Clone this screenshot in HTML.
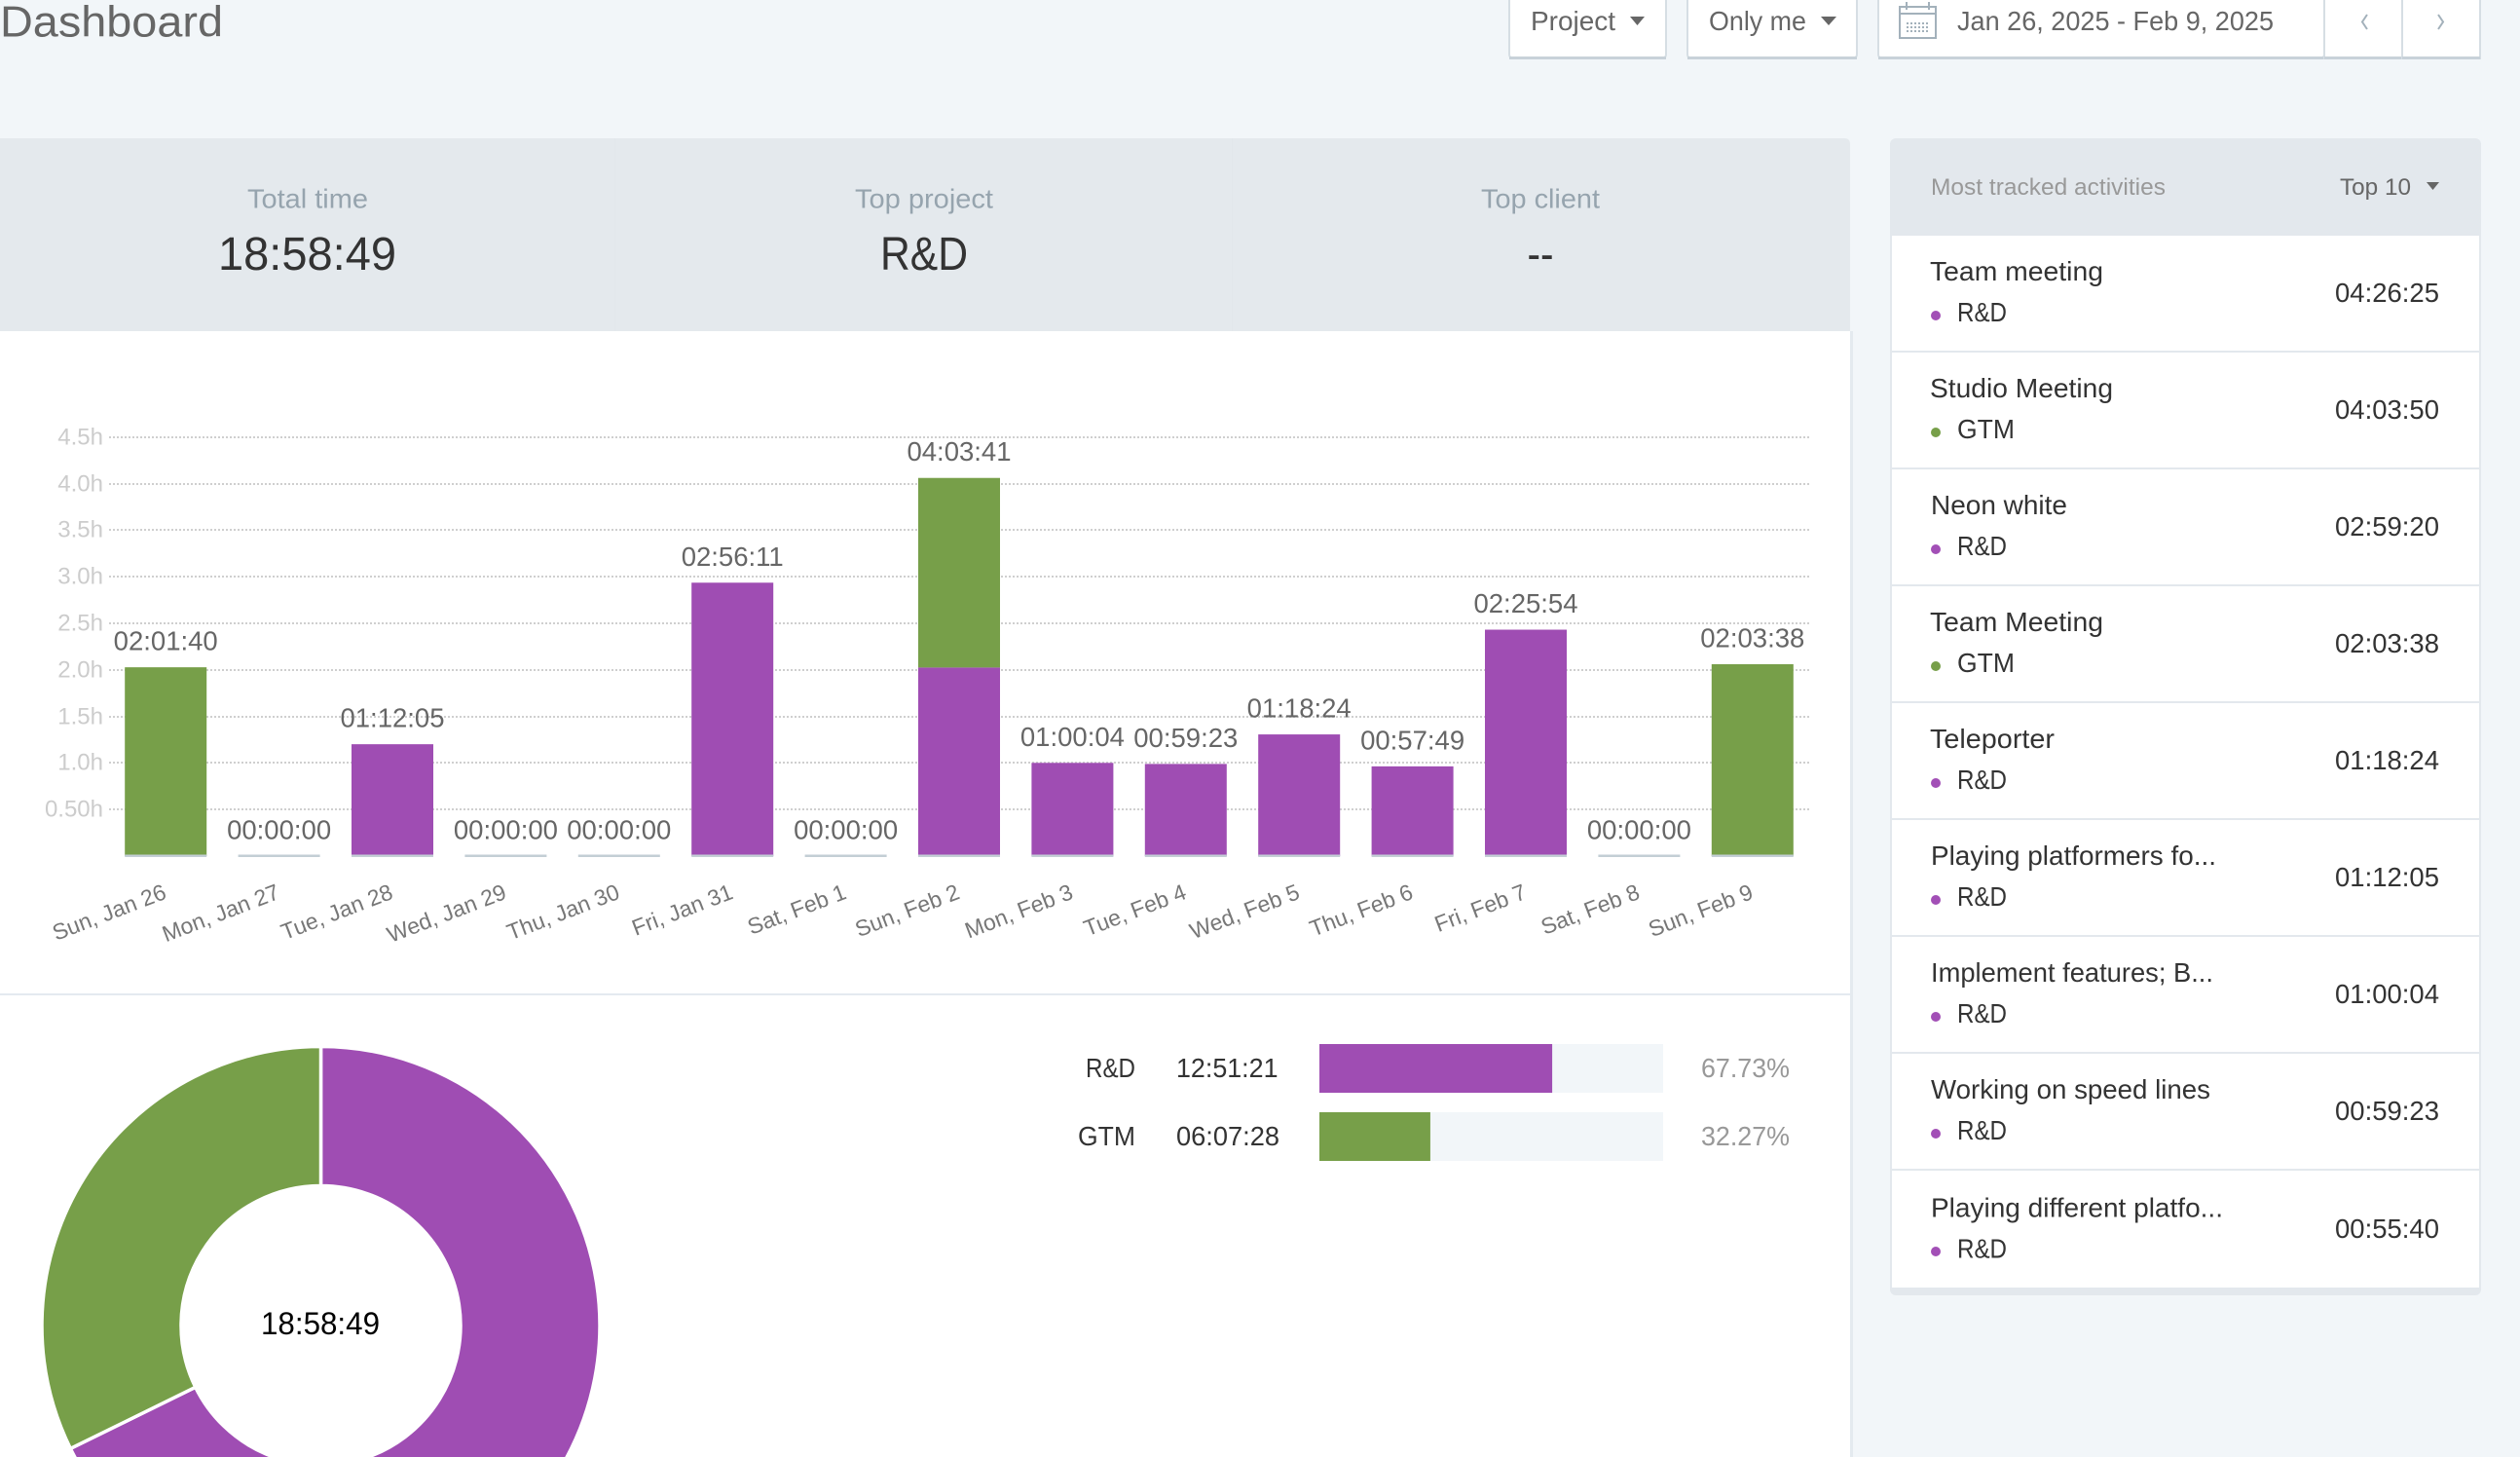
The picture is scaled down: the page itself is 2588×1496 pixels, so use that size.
<!DOCTYPE html>
<html lang="en">
<head>
<meta charset="utf-8">
<title>Dashboard</title>
<style>
  html, body { margin: 0; padding: 0; width: 2588px; height: 1496px; overflow: hidden; background: #f2f6f9; }
  svg { display: block; font-family: "Liberation Sans", sans-serif; }
  .btn-text { font-size: 28px; fill: #666; }
  .label { font-size: 28px; fill: #96a4ae; text-anchor: middle; }
  .stat { font-size: 48px; fill: #333; text-anchor: middle; }
  .row-title, .row-project, .row-time { font-size: 28px; fill: #333; }
  .legend-text { font-size: 28px; fill: #333; }
  .legend-pct { font-size: 28px; fill: #999; }
</style>
</head>
<body>
<svg xmlns="http://www.w3.org/2000/svg" width="2588" height="1496" viewBox="0 0 2588 1496">
  <rect x="0" y="0" width="2588" height="1496" fill="#f2f6f9"/>

  <text x="0" y="37.500" font-size="44.500" fill="#666" textLength="229" lengthAdjust="spacingAndGlyphs">Dashboard</text>

  <g>
    <rect x="1550" y="-12" width="161" height="72" rx="4" fill="#fff" stroke="#d6dee4" stroke-width="2"/>
    <rect x="1550" y="58" width="161" height="3" fill="#c8d2d9"/>
    <text class="btn-text" x="1572" y="31" textLength="87" lengthAdjust="spacingAndGlyphs">Project</text>
    <polygon points="1674,17 1689,17 1681.500,26" fill="#666"/>
  </g>
  <g>
    <rect x="1733" y="-12" width="174" height="72" rx="4" fill="#fff" stroke="#d6dee4" stroke-width="2"/>
    <rect x="1733" y="58" width="174" height="3" fill="#c8d2d9"/>
    <text class="btn-text" x="1755" y="31" textLength="100" lengthAdjust="spacingAndGlyphs">Only me</text>
    <polygon points="1870,17 1886,17 1878,26" fill="#666"/>
  </g>
  <g>
    <rect x="1929" y="-12" width="458" height="72" rx="4" fill="#fff" stroke="#d6dee4" stroke-width="2"/>
    <rect x="1929" y="58" width="458" height="3" fill="#c8d2d9"/>
    <g fill="none" stroke="#a3b1bb" stroke-width="2">
      <rect x="1951" y="7" width="37" height="32"/>
      <line x1="1951" y1="14" x2="1988" y2="14"/>
      <line x1="1958" y1="2" x2="1958" y2="10"/>
      <line x1="1981" y1="2" x2="1981" y2="10"/>
      <line x1="1958" y1="24" x2="1981" y2="24" stroke-dasharray="2 2"/>
      <line x1="1958" y1="28" x2="1981" y2="28" stroke-dasharray="2 2"/>
      <line x1="1958" y1="32" x2="1981" y2="32" stroke-dasharray="2 2"/>
    </g>
    <text class="btn-text" x="2010" y="31" textLength="325" lengthAdjust="spacingAndGlyphs">Jan 26, 2025 - Feb 9, 2025</text>
  </g>
  <g>
    <rect x="2387" y="-12" width="80" height="72" fill="#fff" stroke="#d6dee4" stroke-width="2"/>
    <rect x="2387" y="58" width="80" height="3" fill="#c8d2d9"/>
    <polyline points="2431,15 2426,22.500 2431,30" fill="none" stroke="#a3b1bb" stroke-width="2"/>
  </g>
  <g>
    <rect x="2467" y="-12" width="80" height="72" fill="#fff" stroke="#d6dee4" stroke-width="2"/>
    <rect x="2467" y="58" width="80" height="3" fill="#c8d2d9"/>
    <polyline points="2504,15 2509,22.500 2504,30" fill="none" stroke="#a3b1bb" stroke-width="2"/>
  </g>

  <rect x="0" y="340" width="1900" height="1156" fill="#fff"/>
  <rect x="1900" y="340" width="3" height="1156" fill="#e4eaef"/>
  <path d="M0 142 H1894 Q1900 142 1900 148 V340 H0 Z" fill="#e4e9ed"/>
  <rect x="631" y="142" width="1" height="198" fill="#e2e7eb"/>
  <rect x="1265" y="142" width="1" height="198" fill="#e2e7eb"/>

  <g>
    <text class="label" x="316" y="213.500" textLength="124" lengthAdjust="spacingAndGlyphs">Total time</text>
    <text class="stat" x="315.500" y="277" textLength="183" lengthAdjust="spacingAndGlyphs">18:58:49</text>
  </g>
  <g>
    <text class="label" x="949" y="213.500" textLength="142" lengthAdjust="spacingAndGlyphs">Top project</text>
    <text class="stat" x="949" y="277" textLength="90" lengthAdjust="spacingAndGlyphs">R&amp;D</text>
  </g>
  <g>
    <text class="label" x="1582" y="213.500" textLength="122" lengthAdjust="spacingAndGlyphs">Top client</text>
    <text class="stat" x="1582" y="277" textLength="27" lengthAdjust="spacingAndGlyphs">--</text>
  </g>

  <g id="grid-layer"></g>
  <g id="bar-layer"></g>
  <g id="value-layer"></g>
  <g id="category-layer"></g>

  <rect x="0" y="1020" width="1900" height="2" fill="#e4eaf0"/>

  <g id="donut-layer"></g>
  <text x="329" y="1370" font-size="32" fill="#000" text-anchor="middle" textLength="122" lengthAdjust="spacingAndGlyphs">18:58:49</text>

  <g id="legend-layer">
    <text class="legend-text" x="1115" y="1106" textLength="51" lengthAdjust="spacingAndGlyphs">R&amp;D</text>
    <text class="legend-text" x="1208" y="1106" textLength="104.500" lengthAdjust="spacingAndGlyphs">12:51:21</text>
    <text class="legend-pct" x="1747" y="1106" textLength="91" lengthAdjust="spacingAndGlyphs">67.73%</text>
    <text class="legend-text" x="1107" y="1176" textLength="59" lengthAdjust="spacingAndGlyphs">GTM</text>
    <text class="legend-text" x="1208" y="1176" textLength="106" lengthAdjust="spacingAndGlyphs">06:07:28</text>
    <text class="legend-pct" x="1747" y="1176" textLength="91" lengthAdjust="spacingAndGlyphs">32.27%</text>
  </g>

  <g>
    <rect x="1941" y="142" width="607" height="1188" rx="6" fill="#e3e8ed"/>
    <text x="1983" y="200" font-size="24" fill="#999" textLength="241" lengthAdjust="spacingAndGlyphs">Most tracked activities</text>
    <g>
      <text x="2403" y="200" font-size="24" fill="#666" textLength="73" lengthAdjust="spacingAndGlyphs">Top 10</text>
      <polygon points="2492,187 2505,187 2498.500,195" fill="#666"/>
    </g>

    <g>
      <rect x="1943" y="242" width="603" height="118" fill="#fff"/>
      <text class="row-title" x="1982" y="288" textLength="178" lengthAdjust="spacingAndGlyphs">Team meeting</text>
      <circle cx="1988" cy="324" r="5" fill="#a24fb6"/>
      <text class="row-project" x="2010" y="330" textLength="51" lengthAdjust="spacingAndGlyphs">R&amp;D</text>
      <text class="row-time" x="2398" y="310" textLength="107" lengthAdjust="spacingAndGlyphs">04:26:25</text>
    </g>
    <g>
      <rect x="1943" y="362" width="603" height="118" fill="#fff"/>
      <text class="row-title" x="1982" y="408" textLength="188" lengthAdjust="spacingAndGlyphs">Studio Meeting</text>
      <circle cx="1988" cy="444" r="5" fill="#779f49"/>
      <text class="row-project" x="2010" y="450" textLength="59" lengthAdjust="spacingAndGlyphs">GTM</text>
      <text class="row-time" x="2398" y="430" textLength="107" lengthAdjust="spacingAndGlyphs">04:03:50</text>
    </g>
    <g>
      <rect x="1943" y="482" width="603" height="118" fill="#fff"/>
      <text class="row-title" x="1983" y="528" textLength="140" lengthAdjust="spacingAndGlyphs">Neon white</text>
      <circle cx="1988" cy="564" r="5" fill="#a24fb6"/>
      <text class="row-project" x="2010" y="570" textLength="51" lengthAdjust="spacingAndGlyphs">R&amp;D</text>
      <text class="row-time" x="2398" y="550" textLength="107" lengthAdjust="spacingAndGlyphs">02:59:20</text>
    </g>
    <g>
      <rect x="1943" y="602" width="603" height="118" fill="#fff"/>
      <text class="row-title" x="1982" y="648" textLength="178" lengthAdjust="spacingAndGlyphs">Team Meeting</text>
      <circle cx="1988" cy="684" r="5" fill="#779f49"/>
      <text class="row-project" x="2010" y="690" textLength="59" lengthAdjust="spacingAndGlyphs">GTM</text>
      <text class="row-time" x="2398" y="670" textLength="107" lengthAdjust="spacingAndGlyphs">02:03:38</text>
    </g>
    <g>
      <rect x="1943" y="722" width="603" height="118" fill="#fff"/>
      <text class="row-title" x="1982" y="768" textLength="128" lengthAdjust="spacingAndGlyphs">Teleporter</text>
      <circle cx="1988" cy="804" r="5" fill="#a24fb6"/>
      <text class="row-project" x="2010" y="810" textLength="51" lengthAdjust="spacingAndGlyphs">R&amp;D</text>
      <text class="row-time" x="2398" y="790" textLength="107" lengthAdjust="spacingAndGlyphs">01:18:24</text>
    </g>
    <g>
      <rect x="1943" y="842" width="603" height="118" fill="#fff"/>
      <text class="row-title" x="1983" y="888" textLength="293" lengthAdjust="spacingAndGlyphs">Playing platformers fo...</text>
      <circle cx="1988" cy="924" r="5" fill="#a24fb6"/>
      <text class="row-project" x="2010" y="930" textLength="51" lengthAdjust="spacingAndGlyphs">R&amp;D</text>
      <text class="row-time" x="2398" y="910" textLength="107" lengthAdjust="spacingAndGlyphs">01:12:05</text>
    </g>
    <g>
      <rect x="1943" y="962" width="603" height="118" fill="#fff"/>
      <text class="row-title" x="1983" y="1008" textLength="290" lengthAdjust="spacingAndGlyphs">Implement features; B...</text>
      <circle cx="1988" cy="1044" r="5" fill="#a24fb6"/>
      <text class="row-project" x="2010" y="1050" textLength="51" lengthAdjust="spacingAndGlyphs">R&amp;D</text>
      <text class="row-time" x="2398" y="1030" textLength="107" lengthAdjust="spacingAndGlyphs">01:00:04</text>
    </g>
    <g>
      <rect x="1943" y="1082" width="603" height="118" fill="#fff"/>
      <text class="row-title" x="1983" y="1128" textLength="287" lengthAdjust="spacingAndGlyphs">Working on speed lines</text>
      <circle cx="1988" cy="1164" r="5" fill="#a24fb6"/>
      <text class="row-project" x="2010" y="1170" textLength="51" lengthAdjust="spacingAndGlyphs">R&amp;D</text>
      <text class="row-time" x="2398" y="1150" textLength="107" lengthAdjust="spacingAndGlyphs">00:59:23</text>
    </g>
    <g>
      <rect x="1943" y="1202" width="603" height="120" fill="#fff"/>
      <text class="row-title" x="1983" y="1249.500" textLength="300" lengthAdjust="spacingAndGlyphs">Playing different platfo...</text>
      <circle cx="1988" cy="1285" r="5" fill="#a24fb6"/>
      <text class="row-project" x="2010" y="1291.500" textLength="51" lengthAdjust="spacingAndGlyphs">R&amp;D</text>
      <text class="row-time" x="2398" y="1271" textLength="107" lengthAdjust="spacingAndGlyphs">00:55:40</text>
    </g>
  </g>
</svg>

<script>
const dayLabels = ["Sun, Jan 26", "Mon, Jan 27", "Tue, Jan 28", "Wed, Jan 29", "Thu, Jan 30", "Fri, Jan 31", "Sat, Feb 1", "Sun, Feb 2", "Mon, Feb 3", "Tue, Feb 4", "Wed, Feb 5", "Thu, Feb 6", "Fri, Feb 7", "Sat, Feb 8", "Sun, Feb 9"];
const rdHours = [0, 0, 1.2014, 0, 0, 2.9364, 0, 2.0253, 1.0011, 0.9897, 1.3067, 0.9636, 2.4317, 0, 0];
const gtmHours = [2.0278, 0, 0, 0, 0, 0, 0, 2.0361, 0, 0, 0, 0, 0, 0, 2.0606];
const valueLabels = ["02:01:40", "00:00:00", "01:12:05", "00:00:00", "00:00:00", "02:56:11", "00:00:00", "04:03:41", "01:00:04", "00:59:23", "01:18:24", "00:57:49", "02:25:54", "00:00:00", "02:03:38"];
const yTickValues = [0.5, 1, 1.5, 2, 2.5, 3, 3.5, 4, 4.5];
const yTickLabels = ["0.50h", "1.0h", "1.5h", "2.0h", "2.5h", "3.0h", "3.5h", "4.0h", "4.5h"];
const projectShares = [67.73, 32.27];

const RD_COLOR = "#9f4db3";
const GTM_COLOR = "#779f49";
const SVG_NS = "http://www.w3.org/2000/svg";

function make(tag, attrs, parent, text) {
  const node = document.createElementNS(SVG_NS, tag);
  for (const key in attrs) node.setAttribute(key, attrs[key]);
  if (text !== undefined) node.textContent = text;
  parent.appendChild(node);
  return node;
}

const plotLeft = 112, plotRight = 1858, plotBase = 879, pxPerHour = 95.6, barWidth = 84;
const bandWidth = (plotRight - plotLeft) / dayLabels.length;
function xCenter(i) { return plotLeft + bandWidth * (i + 0.5); }
function yScale(hours) { return plotBase - hours * pxPerHour; }

const gridLayer = document.getElementById("grid-layer");
const barLayer = document.getElementById("bar-layer");
const valueLayer = document.getElementById("value-layer");
const categoryLayer = document.getElementById("category-layer");

yTickValues.forEach(function (tick, i) {
  const y = Math.round(yScale(tick));
  const line = make("line", { x1: plotLeft, x2: plotRight, y1: y, y2: y, stroke: "#cfcfcf", "stroke-width": 2, "stroke-dasharray": "2 2" }, gridLayer);
  
  
  const label = make("text", { x: 106, y: y + 7.5, "text-anchor": "end", "font-size": 24, fill: "#cccccc" }, gridLayer, yTickLabels[i]);
  
  
});

dayLabels.forEach(function (day, i) {
  const cx = xCenter(i);
  const left = cx - barWidth / 2;
  const total = rdHours[i] + gtmHours[i];
  if (rdHours[i] > 0) {
    const rdBar = make("rect", { x: left, y: yScale(rdHours[i]), width: barWidth, height: rdHours[i] * pxPerHour, fill: RD_COLOR }, barLayer);
    
    
  }
  if (gtmHours[i] > 0) {
    const gtmBar = make("rect", { x: left, y: yScale(total), width: barWidth, height: gtmHours[i] * pxPerHour, fill: GTM_COLOR }, barLayer);
    
    
  }
  const baseLine = make("rect", { x: left, y: plotBase - 1.5, width: barWidth, height: 2.5, fill: "#c3ced5" }, barLayer);
  
  
  const value = make("text", { x: cx, y: yScale(total) - 17.5, "text-anchor": "middle", "font-size": 27.5, fill: "#666" }, valueLayer, valueLabels[i]);
  
  
  const category = make("text", { x: 0, y: 0, "text-anchor": "end", "font-size": 23, fill: "#777", transform: "translate(" + (cx + 2) + " 922) rotate(-21)" }, categoryLayer, day);
  
  
});

const donutLayer = document.getElementById("donut-layer");
const donutCx = 329.5, donutCy = 1361, donutOuter = 286.5, donutInner = 143.5;
function polar(radius, fraction) {
  const angle = fraction * 2 * Math.PI;
  return [donutCx + radius * Math.sin(angle), donutCy - radius * Math.cos(angle)];
}
let shareTotal = projectShares.reduce(function (a, b) { return a + b; }, 0);
let running = 0;
projectShares.forEach(function (share, i) {
  const from = running / shareTotal;
  running += share;
  const to = running / shareTotal;
  const large = to - from > 0.5 ? 1 : 0;
  const a = polar(donutOuter, from), b = polar(donutOuter, to), c = polar(donutInner, to), d = polar(donutInner, from);
  const path = "M" + a[0] + " " + a[1] + " A" + donutOuter + " " + donutOuter + " 0 " + large + " 1 " + b[0] + " " + b[1] +
    " L" + c[0] + " " + c[1] + " A" + donutInner + " " + donutInner + " 0 " + large + " 0 " + d[0] + " " + d[1] + " Z";
  const slice = make("path", { d: path, fill: i === 0 ? RD_COLOR : GTM_COLOR, stroke: "#fff", "stroke-width": 3.5 }, donutLayer);
  
  
});

const legendLayer = document.getElementById("legend-layer");
const trackLeft = 1355, trackWidth = 353, rowTop = 1072, rowStep = 70, rowHeight = 50;
projectShares.forEach(function (share, i) {
  const y = rowTop + rowStep * i;
  const track = make("rect", { x: trackLeft, y: y, width: trackWidth, height: rowHeight, fill: "#f2f6f9" }, legendLayer);
  
  
  const fill = make("rect", { x: trackLeft, y: y, width: trackWidth * share / 100, height: rowHeight, fill: i === 0 ? RD_COLOR : GTM_COLOR }, legendLayer);
  
  
});
</script>
</body>
</html>
